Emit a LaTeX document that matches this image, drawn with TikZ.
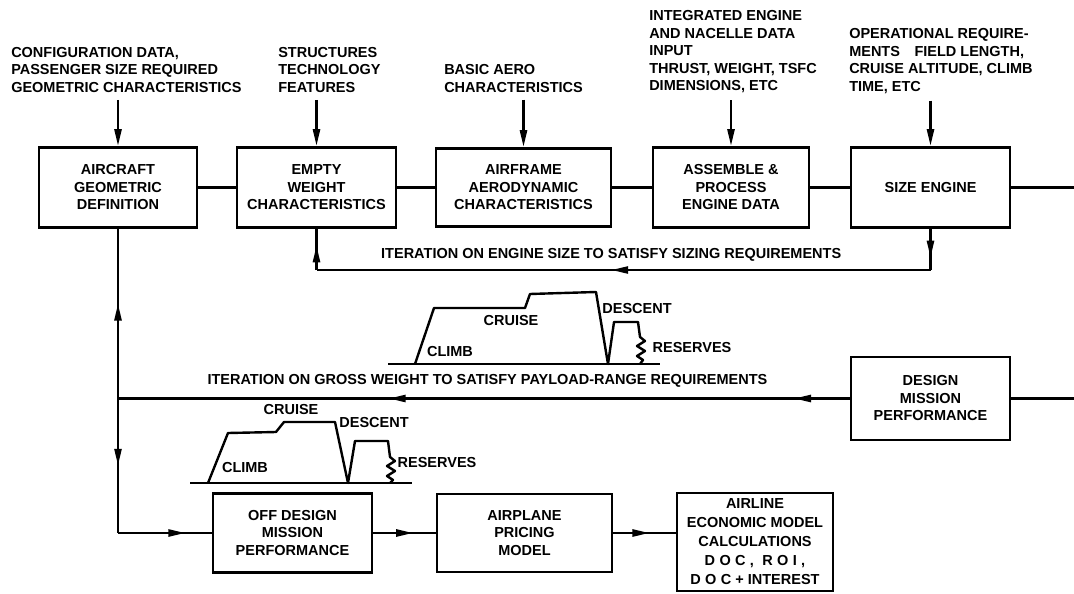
\documentclass[tikz,border=0pt]{standalone}
\usepackage{fontspec}
\setmainfont{Liberation Sans}
\usetikzlibrary{arrows.meta, calc, decorations.markings}

\begin{document}
\begin{tikzpicture}[x=1pt, y=-1pt, line width=2.5pt,
	every node/.style={font=\fontsize{14.5}{17.5}\selectfont\bfseries},
	blok/.style={
		draw,
		line width=2.8pt,
		align=center,
		inner sep=2pt,
	},
	lbl/.style={align=left, anchor=west, inner sep=0pt},
	>={Triangle[length=17pt, width=7pt]},
	prof/.style={line width=2.4pt, line join=round},
	midarrow/.style={postaction={decorate},
		decoration={markings, mark=at position #1 with {\arrow{>}}}},
	twoarrows/.style 2 args={postaction={decorate},
		decoration={markings, mark=at position #1 with {\arrow{>}},
			mark=at position #2 with {\arrow{>}}}}]

	\useasboundingbox (0,0) rectangle (1074,594);

	% inputs
	\node[lbl] (cfg) at (10,70) {CONFIGURATION DATA,\\PASSENGER SIZE REQUIRED\\GEOMETRIC CHARACTERISTICS};
	\node[lbl] (struct) at (277,70) {STRUCTURES\\TECHNOLOGY\\FEATURES};
	\node[lbl] (basic) at (443,78.5) {BASIC AERO\\CHARACTERISTICS};
	\node[lbl] (engin) at (648,52) {INTEGRATED ENGINE\\AND NACELLE DATA\\INPUT\\THRUST, WEIGHT, TSFC\\DIMENSIONS, ETC};
	\node[lbl] (oper) at (848,61) {OPERATIONAL REQUIRE-\\MENTS\quad FIELD LENGTH,\\CRUISE ALTITUDE, CLIMB\\TIME, ETC};

	% sizing loop boxes
	\node[blok, minimum width=158pt, minimum height=80pt] (geom) at (118,187.5) {AIRCRAFT\\GEOMETRIC\\DEFINITION};
	\node[blok, minimum width=159pt, minimum height=80pt] (empty) at (316.5,187.5) {EMPTY\\WEIGHT\\CHARACTERISTICS};
	\node[blok, minimum width=175pt, minimum height=78pt] (aero) at (523.5,187.5) {AIRFRAME\\AERODYNAMIC\\CHARACTERISTICS};
	\node[blok, minimum width=156pt, minimum height=80pt] (engdata) at (731,187.5) {ASSEMBLE \&\\PROCESS\\ENGINE DATA};
	\node[blok, minimum width=159pt, minimum height=80pt] (size) at (930.5,187.5) {SIZE ENGINE};
	\node[blok, minimum width=159pt, minimum height=83pt] (dmp) at (930.5,398.5) {DESIGN\\MISSION\\PERFORMANCE};

	% off design chain
	\node[blok, minimum width=159pt, minimum height=79pt] (odmp) at (292.5,533) {OFF DESIGN\\MISSION\\PERFORMANCE};
	\node[blok, minimum width=175pt, minimum height=78pt] (price) at (524.5,533) {AIRPLANE\\PRICING\\MODEL};
	\node[blok, minimum width=156pt, minimum height=98pt, font=\fontsize{14.5}{19}\selectfont\bfseries] (econ) at (755,542) {AIRLINE\\ECONOMIC MODEL\\CALCULATIONS\\{\addfontfeature{LetterSpace=30}DOC, ROI,}\\{\addfontfeature{LetterSpace=30}DOC} + INTEREST};

	\draw[->, shorten <=6pt] (geom.north |- cfg.south) -- (geom.north);
	\draw[->, shorten <=6pt] (empty.north |- struct.south) -- (empty.north);
	\draw[->, shorten <=6pt] (aero.north |- basic.south) -- (aero.north);
	\draw[->, shorten <=6pt] (engdata.north |- engin.south) -- (engdata.north);
	\draw[->, shorten <=6pt] (size.north |- oper.south) -- (size.north);

	\draw (geom.east) -- (empty.west);
	\draw (empty.east) -- (aero.west);
	\draw (aero.east) -- (engdata.west);
	\draw (engdata.east) -- (size.west);

	\coordinate (sizeout) at (1074,187.5);
	\coordinate (dmpin) at (1074,398.5);
	\draw (size.east) -- (sizeout);
	\draw (dmpin) -- (dmp.east);

	% engine size iteration
	\coordinate (itr) at (size.south |- 0,270);
	\coordinate (itl) at (empty.south |- 0,270);
	\draw[midarrow=0.7] (size.south) -- (itr);
	\draw[midarrow=0.52] (itr) -- node[pos=0.52, above=7pt, inner sep=0pt] {ITERATION ON ENGINE SIZE TO SATISFY SIZING REQUIREMENTS} (itl);
	\draw[midarrow=0.6] (itl) -- (empty.south);

	% gross weight iteration
	\coordinate (gj) at (geom.south |- dmp.west);
	\coordinate (gb) at (geom.south |- odmp.west);
	\draw[twoarrows={0.076}{0.63}] (dmp.west) -- node[pos=0.495, above=10pt, inner sep=0pt] {ITERATION ON GROSS WEIGHT TO SATISFY PAYLOAD-RANGE REQUIREMENTS} (gj);
	\draw[midarrow=0.56] (gj) -- (geom.south);
	\draw[midarrow=0.5] (gj) -- (gb);
	\draw[midarrow=0.72] (gb) -- (odmp.west);
	\draw[midarrow=0.64] (odmp.east) -- (price.west);
	\draw[midarrow=0.58] (price.east) -- (econ.west |- price.east);

	% design mission profile
	\draw[prof] (388,364) -- (660,364);
	\draw[prof] (415,364) -- (434,308) -- (525,308) -- (530,294) -- (596,292) -- (608,364)
		-- (614,322) -- (638,322) -- (640,337) -- (645,341) -- (637,346) -- (645,351)
		-- (637,356) -- (643,360) -- (640,364);
	\node (cr1) at (511,321) {CRUISE};
	\node (cl1) at (450,352) {CLIMB};
	\node (de1) at (637,309) {DESCENT};
	\node (re1) at (692,348) {RESERVES};

	% off design mission profile
	\draw[prof] (190,483) -- (412,483);
	\draw[prof] (208,483) -- (228,433) -- (276,432) -- (284,422) -- (335,422) -- (348,483)
		-- (355,441) -- (388,441) -- (390,457) -- (395,461) -- (387,466) -- (395,471)
		-- (387,476) -- (393,480) -- (390,483);
	\node (cr2) at (291,410) {CRUISE};
	\node (cl2) at (245,468) {CLIMB};
	\node (de2) at (374,423) {DESCENT};
	\node (re2) at (437,463) {RESERVES};
\end{tikzpicture}
\end{document}
